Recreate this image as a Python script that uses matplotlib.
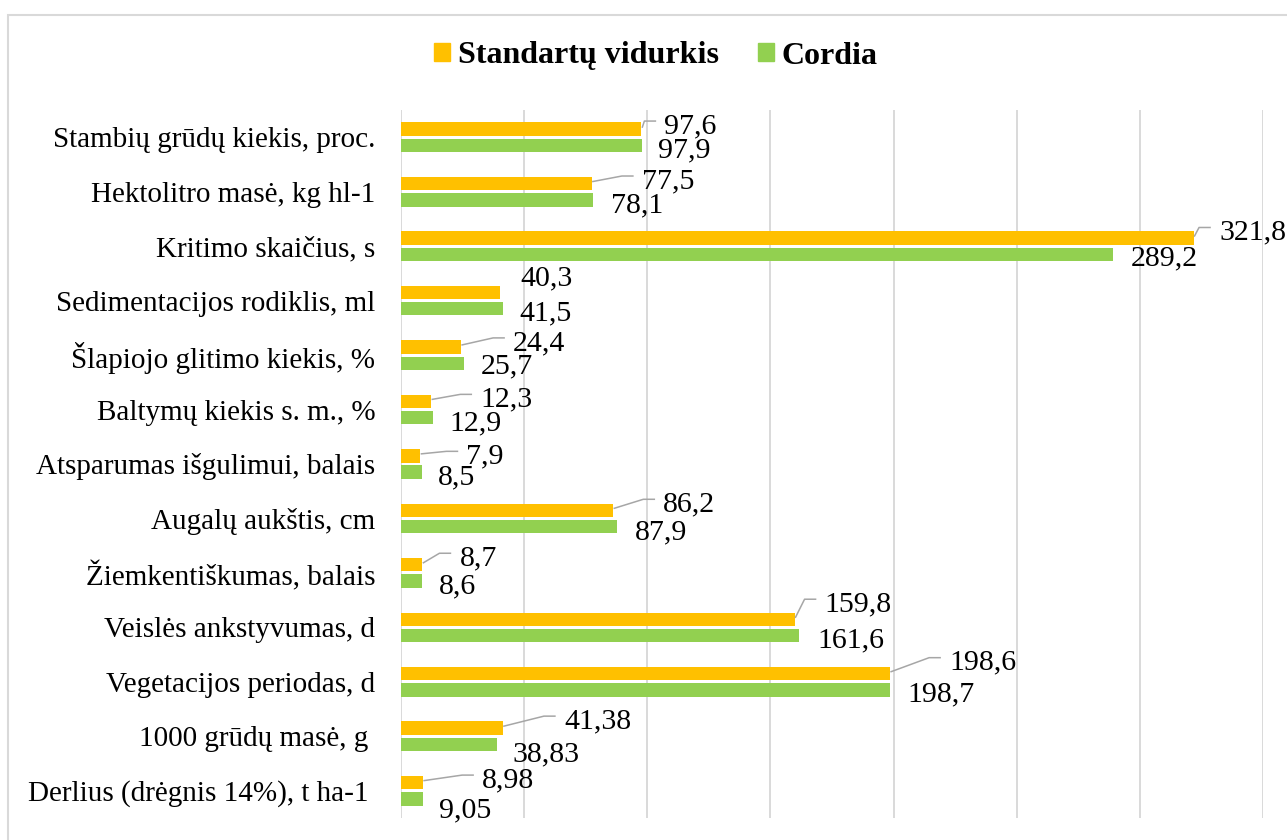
import matplotlib
matplotlib.use("Agg")
import matplotlib.pyplot as plt
from matplotlib.lines import Line2D
from matplotlib.patches import Rectangle
from matplotlib.transforms import IdentityTransform
import numpy as np

plt.rcParams["font.family"] = ["Liberation Serif", "DejaVu Serif"]

# Duomenys
kategorijos = [
    "Stambių grūdų kiekis, proc.",
    "Hektolitro masė, kg hl-1",
    "Kritimo skaičius, s",
    "Sedimentacijos rodiklis, ml",
    "Šlapiojo glitimo kiekis, %",
    "Baltymų kiekis s. m., %",
    "Atsparumas išgulimui, balais",
    "Augalų aukštis, cm",
    "Žiemkentiškumas, balais",
    "Veislės ankstyvumas, d",
    "Vegetacijos periodas, d",
    "1000 grūdų masė, g ",
    "Derlius (drėgnis 14%), t ha-1 ",
]
standartu_vidurkis = [97.6, 77.5, 321.8, 40.3, 24.4, 12.3, 7.9, 86.2, 8.7, 159.8, 198.6, 41.38, 8.98]
cordia = [97.9, 78.1, 289.2, 41.5, 25.7, 12.9, 8.5, 87.9, 8.6, 161.6, 198.7, 38.83, 9.05]

# Etikečių poslinkiai (px nuo stulpelio galo: dx, dy žemyn)
off_std = [(23, -6), (50, -5.5), (25.5, -8.5), (20, -17.5), (52, -7), (49, -5), (46, -2.5),
           (50, -9), (37, -9.5), (30, -18), (59, -14), (61, -10), (59, -5.5)]
off_cor = [(16, 1.5), (18, 2.5), (17, 1.5), (16, 1.5), (16, 0.5), (17, 2.5), (16, 2.5),
           (17, 3), (17, 2), (18, 2), (17, 1), (16, 7), (16, 8)]
be_linijos = [3]

W, H = 1287, 840
fig = plt.figure(figsize=(W / 100, H / 100), dpi=100)
ax = fig.add_axes([401 / W, (H - 818) / H, 862 / W, 708 / H])

y = np.arange(len(kategorijos))
ax.barh(y - 0.15, standartu_vidurkis, height=0.245, color="#FFC000", label="Standartų vidurkis")
ax.barh(y + 0.15, cordia, height=0.245, color="#92D050", label="Cordia")

ax.set_xlim(0, 350)
ax.set_ylim(len(kategorijos) - 0.5, -0.5)
ax.set_xticks(np.arange(0, 351, 50))
ax.xaxis.grid(True, color="#D9D9D9", lw=1.4)
ax.set_axisbelow(True)
ax.tick_params(axis="x", length=0, labelbottom=False)
ax.set_yticks(y)
ax.set_yticklabels(kategorijos, fontsize=21)
ax.tick_params(axis="y", length=0, pad=18.5)
for s in ax.spines.values():
    s.set_visible(False)


def fmt(v):
    return f"{v:g}".replace(".", ",")


fs = 21.5
half_digit = 0.335 * fs * 100 / 72  # nuo skaitmenų centro iki bazinės linijos


def etikete(v, yy, dx, dy, linija):
    ex, ey = ax.transData.transform((v, yy))
    lx, ly = ex + dx, ey - dy
    fig.text(lx, ly - half_digit, fmt(v), fontsize=fs, ha="left", va="baseline",
             transform=IdentityTransform())
    if linija:
        fig.add_artist(Line2D([ex + 1, lx - 20, lx - 9], [ey + 2, ly + 2, ly + 2],
                              color="#A6A6A6", lw=1.1, transform=IdentityTransform()))


for i in range(len(kategorijos)):
    etikete(standartu_vidurkis[i], i - 0.15, *off_std[i], i not in be_linijos)
    etikete(cordia[i], i + 0.15, *off_cor[i], False)

handles = [Rectangle((0, 0), 1, 1, color="#FFC000"), Rectangle((0, 0), 1, 1, color="#92D050")]
fig.legend(handles, ["Standartų vidurkis", "Cordia"], loc="center",
           bbox_to_anchor=(656 / W, 1 - 56 / H), ncol=2, frameon=False,
           prop={"family": "Liberation Serif", "weight": "bold", "size": 23},
           handlelength=0.5, handleheight=0.5, handletextpad=0.25, columnspacing=1.2)

# Diagramos rėmelis
fig.add_artist(Rectangle((8 / W, -0.1), 1.2, (H - 15) / H + 0.1, transform=fig.transFigure,
                         fill=False, ec="#D9D9D9", lw=1.5))

fig.savefig("out.png", dpi=100)
